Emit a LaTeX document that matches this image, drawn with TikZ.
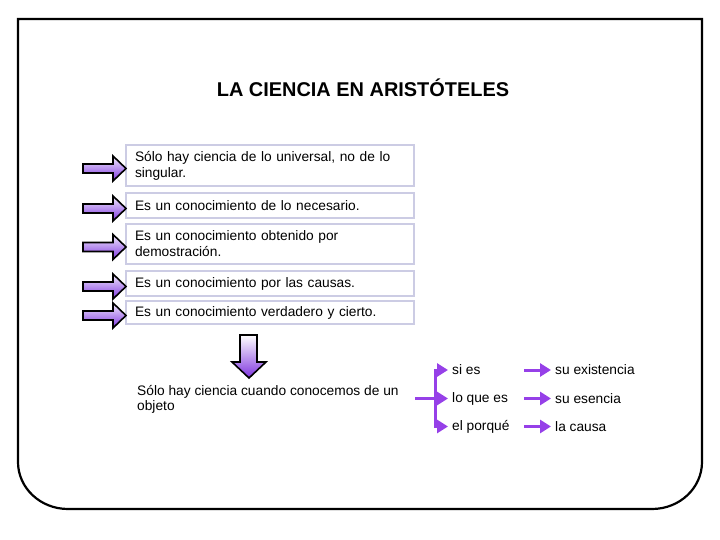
\documentclass[tikz,border=0pt]{standalone}
\usepackage{fontspec}
\setmainfont{Liberation Sans}
\usetikzlibrary{arrows.meta,calc}
\definecolor{boxline}{RGB}{204,204,228}
\definecolor{purp}{RGB}{150,64,232}
\definecolor{arrtop}{RGB}{242,236,255}
\definecolor{arrbot}{RGB}{126,52,222}
\begin{document}
\begin{tikzpicture}[x=1bp,y=-1bp,
  frame/.style={draw=black, line width=2.2bp},
  box/.style={draw=boxline, line width=2bp, anchor=north west, text width=270bp,
    inner xsep=9bp, inner ysep=0pt, align=left, font=\fontsize{13.8}{16}\selectfont},
  body/.style={inner xsep=4bp, inner ysep=0pt, font=\fontsize{13.8}{16}\selectfont},
  pline/.style={draw=purp, line width=3bp},
  ptip/.style={-{Triangle[length=11bp,width=13bp]}},
  blockarrow/.style={draw=black, line width=1.6bp, line join=miter, top color=arrtop, bottom color=arrbot},
  larr/.pic={\path[blockarrow] (-42,-4.5) -- (-12,-4.5) -- (-12,-12.5) -- (1,0) -- (-12,12.5) -- (-12,4.5) -- (-42,4.5) -- cycle;}
]
\useasboundingbox (0,0) rectangle (720,540);

% frame
\draw[frame] (68,509) .. controls (40.4,509) and (18,488) .. (18,462) -- (18,19) -- (702,19) -- (702,462)
  .. controls (702,488) and (679.6,509) .. (652,509) -- cycle;

% title
\node[font=\bfseries\fontsize{20}{22}\selectfont] (title) at (363,88) {LA CIENCIA EN ARISTÓTELES};

% boxes
\node[box, minimum height=41bp] (b1) at (125,144) {Sólo hay ciencia de lo universal, no de lo\\singular.};
\node[box, minimum height=25bp] (b2) at (125,192) {Es un conocimiento de lo necesario.};
\node[box, minimum height=40bp] (b3) at (125,223) {Es un conocimiento obtenido por\\demostración.};
\node[box, minimum height=25bp] (b4) at (125,270) {Es un conocimiento por las causas.};
\node[box, minimum height=23bp] (b5) at (125,300) {Es un conocimiento verdadero y cierto.};

% left block arrows
\foreach \b in {b1,b2,b3,b4,b5}{
  \pic at ([yshift=-3bp]\b.west) {larr};
}

% down block arrow
\path[blockarrow, top color=white] (240,335) -- (257,335) -- (257,362) -- (266,362) -- (249,378) -- (232,362) -- (240,362) -- cycle;

% bottom text
\node[anchor=west, align=left, inner sep=0pt, font=\fontsize{13.8}{15}\selectfont] (obj) at (137,399.5)
  {Sólo hay ciencia cuando conocemos de un\\objeto};

% right column
\node[body, anchor=west] (r1) at (448,370) {si es};
\node[body, anchor=west] (r2) at (448,398.5) {lo que es};
\node[body, anchor=west] (r3) at (448,426.5) {el porqué};
\node[body, anchor=west] (s1) at (551,370) {su existencia};
\node[body, anchor=west] (s2) at (551,398.5) {su esencia};
\node[body, anchor=west] (s3) at (551,426.5) {la causa};

\coordinate (in) at (415,398.5);
\coordinate (j) at (435,398.5);
\draw[pline, ptip] (in) -- (r2.west);
\draw[pline, ptip] (j) |- (r1.west);
\draw[pline, ptip] (j) |- (r3.west);

\draw[pline, ptip] ([xshift=-27bp]s1.west) -- (s1.west);
\draw[pline, ptip] ([xshift=-27bp]s2.west) -- (s2.west);
\draw[pline, ptip] ([xshift=-27bp]s3.west) -- (s3.west);
\end{tikzpicture}
\end{document}
